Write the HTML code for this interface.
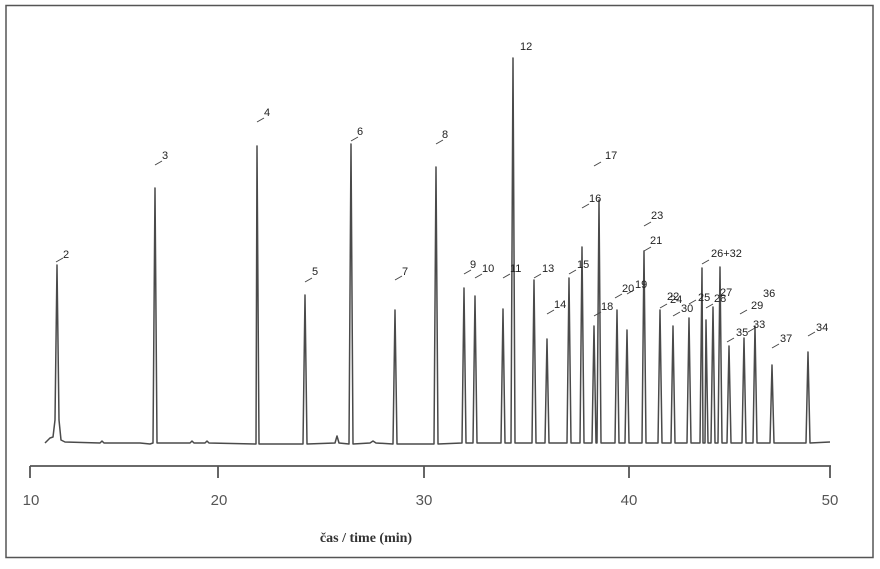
<!DOCTYPE html>
<html><head><meta charset="utf-8"><style>
html,body{margin:0;padding:0;background:#fff;}
svg{display:block;}
</style></head><body>
<svg width="880" height="569" viewBox="0 0 880 569" xmlns="http://www.w3.org/2000/svg">
<rect x="6" y="5.5" width="867" height="552" fill="#fff" stroke="#555" stroke-width="1.5"/>
<g fill="none" stroke="#4a4a4a" stroke-width="1.5" stroke-linejoin="round">
<path d="M45 443 L50 438 L53 437 L55 420 L57 265 L59 420 L61 440 L65 442 L100 443 L102 441 L104 443 L140 443 L150 444 L153 443 L155 188 L157 443 L190 443 L192 441 L194 443 L205 443 L207 441 L209 443 L256 444 L257 146 L259 444 L303 444 L305 295 L307 444 L335 443 L337 436 L339 443 L349 444 L351 144 L353 444 L370 443 L373 441 L376 443 L393 444 L395 310 L397 444 L434 444 L436 167 L438 444 L462 443 L464 288 L466 443 L473 443 L475 296 L477 443 L501 443 L503 309 L505 443 L511 443 L513 58 L515 443 L532 443 L534 280 L536 443 L545 443 L547 339 L549 443 L567 443 L569 278 L571 443 L580 443 L582 247 L584 443 L592 443 L594 326 L596 443 L597 443 L599 200 L601 443 L615 443 L617 310 L619 443 L625 443 L627 330 L629 443 L642 443 L644 251 L646 443 L658 443 L660 310 L662 443 L671 443 L673 326 L675 443 L687 443 L689 318 L691 443 L700 443 L702 268 L703 443 L705 443 L706 320 L708 443 L711 443 L713 307 L715 443 L718 443 L720 267 L722 443 L727 443 L729 346 L731 443 L742 443 L744 338 L746 443 L753 443 L755 326 L757 443 L770 443 L772 365 L774 443 L806 443 L808 352 L810 443 L830 442"/>
</g>
<g stroke="#444" stroke-width="1" fill="none">
<path d="M56 262 l7 -4 M155 165 l7 -4 M257 122 l7 -4 M305 282 l7 -4 M351 141 l7 -4 M395 280 l7 -4 M436 144 l7 -4 M464 274 l7 -4 M475 278 l7 -4 M503 278 l7 -4 M534 278 l7 -4 M547 314 l7 -4 M569 274 l7 -4 M582 208 l7 -4 M594 166 l7 -4 M594 316 l7 -4 M615 298 l7 -4 M627 294 l7 -4 M644 226 l7 -4 M644 251 l7 -4 M660 308 l7 -4 M673 316 l7 -4 M689 304 l7 -4 M706 308 l7 -4 M702 264 l7 -4 M740 314 l7 -4 M727 342 l7 -4 M748 332 l7 -4 M772 348 l7 -4 M808 336 l7 -4"/>
</g>
<g font-family="Liberation Sans, sans-serif" font-size="11" fill="#222">
<text x="63" y="258">2</text><text x="162" y="159">3</text><text x="264" y="116">4</text>
<text x="312" y="275">5</text><text x="357" y="135">6</text><text x="402" y="275">7</text>
<text x="442" y="138">8</text><text x="470" y="268">9</text><text x="482" y="272">10</text>
<text x="510" y="272">11</text><text x="520" y="50">12</text><text x="542" y="272">13</text>
<text x="554" y="308">14</text><text x="577" y="268">15</text><text x="589" y="202">16</text>
<text x="605" y="159">17</text><text x="601" y="310">18</text><text x="622" y="292">20</text>
<text x="635" y="288">19</text><text x="651" y="219">23</text><text x="650" y="244">21</text>
<text x="667" y="300">22</text><text x="670" y="303">24</text><text x="681" y="312">30</text>
<text x="698" y="301">25</text><text x="711" y="257">26+32</text><text x="714" y="302">28</text>
<text x="720" y="296">27</text><text x="751" y="309">29</text><text x="763" y="297">36</text>
<text x="736" y="336">35</text><text x="753" y="328">33</text><text x="780" y="342">37</text>
<text x="816" y="331">34</text>
</g>
<g stroke="#555" stroke-width="1.8" fill="none">
<path d="M30 466 H831 M30 466 V478 M218 466 V478 M424 466 V478 M629 466 V478 M830 466 V478"/>
</g>
<g font-family="Liberation Sans, sans-serif" font-size="15" fill="#555" text-anchor="middle">
<text x="31" y="505">10</text><text x="219" y="505">20</text><text x="424" y="505">30</text>
<text x="629" y="505">40</text><text x="830" y="505">50</text>
</g>
<text x="366" y="542" font-family="Liberation Serif, serif" font-weight="bold" font-size="14" fill="#333" text-anchor="middle">čas / time (min)</text>
</svg>
</body></html>
